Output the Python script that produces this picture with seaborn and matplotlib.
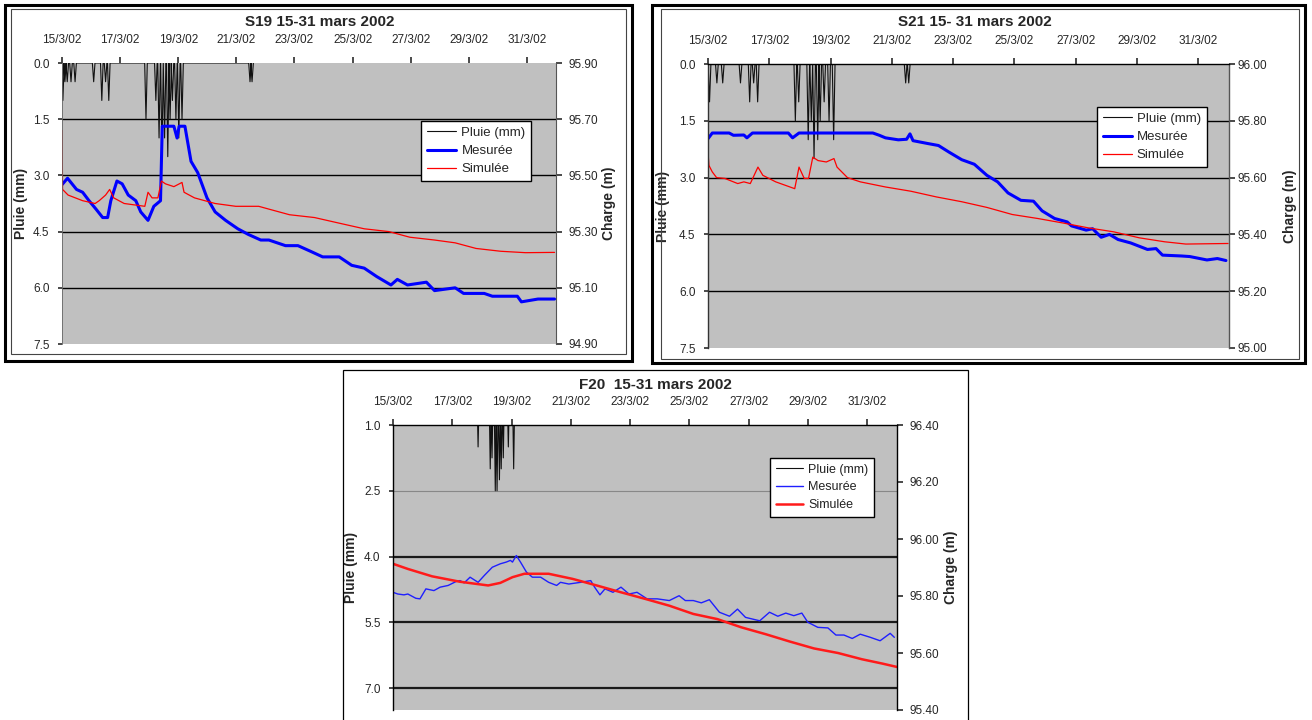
import numpy as np
import matplotlib
matplotlib.use("Agg")
import matplotlib.pyplot as plt
from matplotlib.patches import Rectangle
import seaborn as sns

W, H = 1312, 720

# axe des dates (jours depuis le 15/3/02)
date_ticks = [0, 2, 4, 6, 8, 10, 12, 14, 16]
date_labels = ["15/3/02", "17/3/02", "19/3/02", "21/3/02", "23/3/02",
               "25/3/02", "27/3/02", "29/3/02", "31/3/02"]

# ---- S19 ----
s19_rain_t = [0.03, 0.10, 0.18, 0.31, 0.45, 1.09, 1.37, 1.50, 1.61, 2.89, 3.23, 3.34,
              3.44, 3.53, 3.64, 3.72, 3.80, 3.92, 4.02, 4.13, 6.47, 6.54]
s19_rain_mm = [1.0, 0.5, 0.5, 0.5, 0.5, 0.5, 1.0, 0.5, 1.0, 1.5, 1.0, 2.0,
               2.5, 2.0, 2.5, 1.5, 1.0, 1.5, 2.0, 1.5, 0.5, 0.5]
s19_mes_t = [0.0, 0.19, 0.5, 0.71, 0.93, 1.17, 1.40, 1.57, 1.68, 1.89, 2.07, 2.28, 2.54,
             2.71, 2.96, 3.16, 3.39, 3.45, 3.56, 3.85, 3.96, 4.03, 4.23, 4.44, 4.67, 4.99,
             5.27, 5.63, 6.05, 6.41, 6.84, 7.12, 7.69, 8.12, 8.55, 8.97, 9.54, 9.97, 10.40,
             10.83, 11.32, 11.54, 11.89, 12.54, 12.82, 13.53, 13.82, 14.53, 14.81, 15.67,
             15.81, 16.38, 16.95]
s19_mes_h = [95.467, 95.49, 95.45, 95.44, 95.41, 95.38, 95.35, 95.35, 95.41, 95.48, 95.47,
             95.43, 95.41, 95.37, 95.34, 95.39, 95.41, 95.675, 95.675, 95.675, 95.633, 95.675,
             95.675, 95.55, 95.51, 95.42, 95.37, 95.34, 95.31, 95.29, 95.27, 95.27, 95.25,
             95.25, 95.23, 95.21, 95.21, 95.18, 95.17, 95.14, 95.11, 95.13, 95.11, 95.12,
             95.09, 95.10, 95.08, 95.08, 95.07, 95.07, 95.05, 95.06, 95.06]
s19_sim_t = [0.0, 0.02, 0.21, 0.71, 1.14, 1.28, 1.50, 1.64, 1.78, 2.14, 2.85, 2.96, 3.10,
             3.30, 3.42, 3.56, 3.85, 4.13, 4.20, 4.56, 5.27, 5.98, 6.77, 7.12, 7.83, 8.69,
             9.54, 10.40, 11.25, 11.97, 12.82, 13.53, 14.25, 15.10, 15.95, 16.95]
s19_sim_h = [95.66, 95.45, 95.43, 95.41, 95.40, 95.41, 95.43, 95.45, 95.42, 95.40, 95.39,
             95.44, 95.42, 95.42, 95.48, 95.47, 95.46, 95.475, 95.44, 95.42, 95.40, 95.39,
             95.39, 95.38, 95.36, 95.35, 95.33, 95.31, 95.30, 95.28, 95.27, 95.26, 95.24,
             95.23, 95.225, 95.226]

# ---- S21 ----
s21_rain_t = [0.05, 0.29, 0.48, 1.06, 1.36, 1.49, 1.62, 2.85, 2.96, 3.27, 3.37, 3.46,
              3.58, 3.66, 3.79, 3.95, 4.10, 6.45, 6.55]
s21_rain_mm = [1.0, 0.5, 0.5, 0.5, 1.0, 0.5, 1.0, 1.5, 1.0, 2.0, 1.5, 2.5,
               2.0, 1.5, 1.0, 1.5, 2.0, 0.5, 0.5]
s21_mes_t = [0.0, 0.14, 0.69, 0.83, 1.17, 1.27, 1.45, 2.62, 2.76, 2.97, 5.17, 5.38, 5.59,
             5.79, 6.21, 6.48, 6.59, 6.69, 7.17, 7.52, 7.86, 8.28, 8.69, 9.10, 9.45, 9.79,
             10.21, 10.62, 10.90, 11.31, 11.72, 11.86, 12.34, 12.55, 12.83, 13.10, 13.38,
             13.79, 14.34, 14.62, 14.83, 15.45, 15.72, 16.28, 16.62, 16.9]
s21_mes_h = [95.737, 95.757, 95.757, 95.749, 95.750, 95.74, 95.757, 95.757, 95.74, 95.757,
             95.757, 95.757, 95.749, 95.74, 95.733, 95.735, 95.754, 95.73, 95.72, 95.713,
             95.69, 95.663, 95.647, 95.608, 95.585, 95.546, 95.52, 95.517, 95.483, 95.456,
             95.444, 95.43, 95.415, 95.42, 95.39, 95.40, 95.382, 95.37, 95.347, 95.35,
             95.327, 95.324, 95.322, 95.31, 95.315, 95.308]
s21_sim_t = [0.0, 0.03, 0.14, 0.28, 0.55, 0.97, 1.17, 1.38, 1.63, 1.79, 2.21, 2.83, 2.97,
             3.14, 3.28, 3.42, 3.59, 3.86, 4.11, 4.21, 4.55, 4.97, 5.79, 6.62, 7.45, 8.28,
             9.10, 9.93, 10.76, 11.59, 12.41, 13.24, 14.07, 14.90, 15.59, 16.97]
s21_sim_h = [95.69, 95.643, 95.62, 95.60, 95.597, 95.579, 95.585, 95.579, 95.637, 95.608,
             95.585, 95.561, 95.637, 95.597, 95.597, 95.672, 95.66, 95.655, 95.667, 95.637,
             95.60, 95.585, 95.567, 95.552, 95.532, 95.515, 95.495, 95.47, 95.456, 95.44,
             95.423, 95.409, 95.388, 95.374, 95.366, 95.368]

# ---- F20 ----
f20_rain_t = [2.87, 3.28, 3.34, 3.45, 3.51, 3.59, 3.65, 3.72, 3.89, 4.07]
f20_rain_mm = [1.5, 2.0, 1.75, 2.5, 2.5, 2.25, 2.0, 1.75, 1.5, 2.0]
f20_mes_t = [0.0, 0.16, 0.37, 0.5, 0.77, 0.91, 1.11, 1.38, 1.59, 1.86, 2.13, 2.26, 2.4,
             2.6, 2.87, 3.08, 3.35, 3.62, 3.82, 3.96, 4.03, 4.16, 4.3, 4.5, 4.7, 4.98,
             5.25, 5.52, 5.65, 5.93, 6.33, 6.67, 6.80, 6.98, 7.15, 7.42, 7.69, 7.96, 8.23,
             8.57, 8.91, 9.32, 9.65, 9.86, 10.13, 10.40, 10.67, 11.01, 11.35, 11.62, 11.89,
             12.37, 12.70, 12.98, 13.25, 13.52, 13.79, 13.99, 14.33, 14.67, 14.94, 15.21,
             15.49, 15.76, 16.10, 16.43, 16.77, 16.91]
f20_mes_h = [95.813, 95.807, 95.804, 95.807, 95.792, 95.790, 95.825, 95.819, 95.831,
             95.837, 95.851, 95.854, 95.846, 95.866, 95.848, 95.872, 95.901, 95.913,
             95.919, 95.925, 95.919, 95.942, 95.919, 95.884, 95.866, 95.866, 95.848,
             95.837, 95.848, 95.842, 95.848, 95.854, 95.831, 95.804, 95.825, 95.813,
             95.831, 95.807, 95.813, 95.790, 95.790, 95.784, 95.801, 95.784, 95.784,
             95.776, 95.787, 95.743, 95.729, 95.754, 95.725, 95.713, 95.743, 95.729,
             95.740, 95.731, 95.740, 95.708, 95.690, 95.688, 95.663, 95.663, 95.651,
             95.666, 95.655, 95.643, 95.669, 95.655]
f20_sim_t = [0.0, 0.50, 1.32, 2.26, 3.21, 3.62, 4.03, 4.43, 5.25, 6.06, 6.87, 7.69, 8.50,
             9.32, 10.13, 10.94, 11.75, 12.57, 13.39, 14.2, 15.01, 15.82, 16.5, 17.0]
f20_sim_h = [95.913, 95.895, 95.869, 95.85, 95.837, 95.846, 95.866, 95.878, 95.878, 95.86,
             95.837, 95.813, 95.79, 95.766, 95.737, 95.719, 95.69, 95.666, 95.64, 95.616,
             95.60, 95.578, 95.563, 95.551]

sns.set_theme(style="ticks")
plt.rcParams["font.family"] = ["Liberation Sans", "DejaVu Sans"]

fig = plt.figure(figsize=(W / 100, H / 100), dpi=100)
fig.patch.set_facecolor("white")


def px_rect(x0, y0, x1, y1):
    return [x0 / W, 1 - y1 / H, (x1 - x0) / W, (y1 - y0) / H]


def spikes(t, v, dt=0.045):
    # pluviomètre : retour à zéro entre deux basculements
    xs, ys = [], []
    for ti, vi in zip(t, v):
        xs += [ti - dt, ti, ti + dt]
        ys += [0.0, vi, 0.0]
    return np.array(xs), np.array(ys)


def draw_panel(box, rain_t, rain_mm, mes_t, mes_h, sim_t, sim_h, pluie_ticks, pluie_lim,
               charge_ticks, charge_lim, ylab_x, rpad, light=False):
    ax = fig.add_axes(px_rect(*box))
    ax.set_facecolor("#C0C0C0")
    rx, ry = spikes(rain_t, rain_mm)
    sns.lineplot(x=rx, y=ry, ax=ax, color="#111111", lw=0.8, estimator=None, sort=False)
    ax.set_xlim(0, 17.0)
    ax.set_ylim(*pluie_lim)
    ax.set_yticks(pluie_ticks, labels=[f"{v:.1f}" for v in pluie_ticks])
    ax.set_xticks(date_ticks, labels=date_labels)
    ax.xaxis.set_ticks_position("top")
    ax.tick_params(axis="x", top=True, bottom=False, labeltop=True, labelbottom=False,
                   direction="out", length=4, pad=8, labelsize=8.5, color="#333333")
    ax.tick_params(axis="y", left=True, direction="out", length=3, pad=6, labelsize=8.5,
                   color="#333333")
    ax.set_xlabel("")
    ax.set_ylabel("Pluie (mm)", fontsize=10, fontweight="bold")
    ax.yaxis.set_label_coords(ylab_x[0], 0.5)

    # lignes de quadrillage horizontales
    ax.grid(axis="y", color="black", lw=1.0)
    ax.grid(axis="x", visible=False)
    ax.set_axisbelow(True)
    for val, gl in zip(pluie_ticks, ax.yaxis.get_gridlines()):
        if abs(val - pluie_lim[0]) < 1e-6 or abs(val - pluie_lim[1]) < 1e-6:
            gl.set_visible(False)
        elif light:
            if abs(val - 2.5) < 1e-6:
                gl.set_color("#888888")
                gl.set_linewidth(0.8)
            else:
                gl.set_color("#1a1a1a")
                gl.set_linewidth(1.6)

    ax2 = ax.twinx()
    if light:
        sns.lineplot(x=mes_t, y=mes_h, ax=ax2, color="#1f1fff", lw=1.0, estimator=None, sort=False)
        sns.lineplot(x=sim_t, y=sim_h, ax=ax2, color="#ff1a1a", lw=1.8, estimator=None, sort=False)
    else:
        sns.lineplot(x=mes_t, y=mes_h, ax=ax2, color="#0000ff", lw=2.2, estimator=None, sort=False)
        sns.lineplot(x=sim_t, y=sim_h, ax=ax2, color="#ff0000", lw=0.9, estimator=None, sort=False)
    ax2.set_ylim(*charge_lim)
    ax2.set_yticks(charge_ticks, labels=[f"{v:.2f}" for v in charge_ticks])
    ax2.tick_params(axis="y", right=True, direction="out", length=4, pad=rpad,
                    labelsize=8.5, color="#333333")
    ax2.set_ylabel("Charge (m)", fontsize=10, fontweight="bold")
    ax2.yaxis.set_label_coords(ylab_x[1], 0.5)

    for a in (ax, ax2):
        for sp in a.spines.values():
            sp.set_visible(False)
    return ax, ax2


def legend(ax, ax2, xy, light=False):
    handles = [ax.lines[0], ax2.lines[0], ax2.lines[1]]
    leg = ax2.legend(handles, ["Pluie (mm)", "Mesurée", "Simulée"], loc="upper left",
                     bbox_to_anchor=xy, frameon=True, fancybox=False, edgecolor="black",
                     framealpha=1, facecolor="white", fontsize=9 if light else 9.5,
                     handlelength=2.2, borderpad=0.45, labelspacing=0.45,
                     handletextpad=0.4, borderaxespad=0)
    leg.get_frame().set_linewidth(1.0)
    if light:
        for tx in leg.get_texts():
            tx.set_color("#222222")


# S19
ax, ax2 = draw_panel((62, 63, 556, 344), s19_rain_t, s19_rain_mm, s19_mes_t, s19_mes_h,
                     s19_sim_t, s19_sim_h, [0.0, 1.5, 3.0, 4.5, 6.0, 7.5], (7.5, 0.0),
                     [94.90, 95.10, 95.30, 95.50, 95.70, 95.90], (94.90, 95.90),
                     (-0.069, 1.093), 5)
ax2.spines["right"].set_visible(True)
ax2.spines["right"].set_color("#555555")
ax2.spines["right"].set_linewidth(0.8)
ax2.spines["left"].set_visible(True)
ax2.spines["left"].set_color("#666666")
ax2.spines["left"].set_linewidth(0.6)
legend(ax, ax2, (0.727, 0.794))

# S21
ax, ax2 = draw_panel((708, 64, 1229, 348), s21_rain_t, s21_rain_mm, s21_mes_t, s21_mes_h,
                     s21_sim_t, s21_sim_h, [0.0, 1.5, 3.0, 4.5, 6.0, 7.5], (7.5, 0.0),
                     [95.00, 95.20, 95.40, 95.60, 95.80, 96.00], (95.00, 96.00),
                     (-0.073, 1.104), 2)
for side, col in (("top", "black"), ("left", "#333333"), ("right", "#555555")):
    ax2.spines[side].set_visible(True)
    ax2.spines[side].set_color(col)
    ax2.spines[side].set_linewidth(1.0)
legend(ax, ax2, (0.746, 0.849))

# F20
ax, ax2 = draw_panel((393, 425, 897, 710), f20_rain_t, f20_rain_mm, f20_mes_t, f20_mes_h,
                     f20_sim_t, f20_sim_h, [1.0, 2.5, 4.0, 5.5, 7.0], (7.5, 1.0),
                     [95.40, 95.60, 95.80, 96.00, 96.20, 96.40], (95.40, 96.40),
                     (-0.069, 1.093), 5, light=True)
for side in ("top", "left", "right"):
    ax2.spines[side].set_visible(True)
    ax2.spines[side].set_color("black")
    ax2.spines[side].set_linewidth(1.0)
legend(ax, ax2, (0.748, 0.884), light=True)

# titres
fig.text(320 / W, 1 - 22 / H, "S19 15-31 mars 2002", ha="center", va="center",
         fontsize=11, fontweight="bold")
fig.text(975 / W, 1 - 22 / H, "S21 15- 31 mars 2002", ha="center", va="center",
         fontsize=11, fontweight="bold")
fig.text(655 / W, 1 - 385 / H, "F20  15-31 mars 2002", ha="center", va="center",
         fontsize=11, fontweight="bold")

# cadres des graphiques
for x0, y0, x1, y1, lw, col in [(5, 5, 632, 361, 2.2, "black"), (11, 9, 626, 354, 0.8, "#444444"),
                                (652, 5, 1305, 363, 2.2, "black"), (661, 9, 1299, 359, 0.8, "#444444"),
                                (343, 370, 968, 730, 0.9, "black")]:
    fig.add_artist(Rectangle((x0 / W, 1 - y1 / H), (x1 - x0) / W, (y1 - y0) / H,
                             transform=fig.transFigure, fill=False, lw=lw, edgecolor=col))

fig.savefig("out.png", dpi=100, facecolor="white")
